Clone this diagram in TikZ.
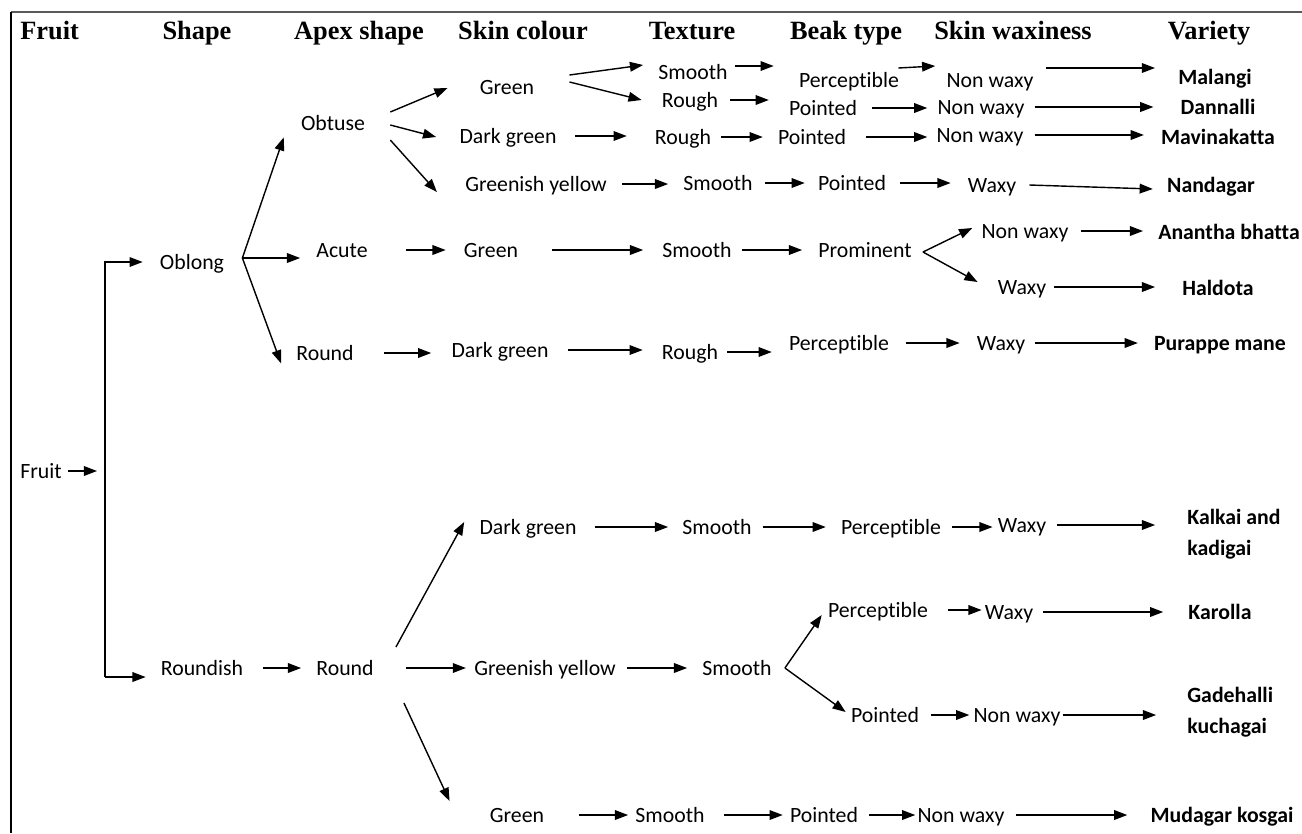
\documentclass[tikz,border=0pt]{standalone}
\usepackage{fontspec}
\setmainfont{Carlito}[RawFeature={-liga;-clig;-calt}]
\newfontfamily\headfont{Liberation Serif}
\usepackage{tikz}
\usetikzlibrary{arrows.meta}

\begin{document}
\begin{tikzpicture}[x=0.02cm,y=-0.02cm,
  lbl/.style={inner sep=0pt, text height=8pt, text depth=0pt, font=\fontsize{12.4}{15}\selectfont},
  var/.style={lbl, font=\fontsize{12.4}{15}\selectfont\bfseries},
  vartwo/.style={inner sep=0pt, anchor=west, align=left, font=\fontsize{12.4}{17.5}\selectfont\bfseries},
  head/.style={inner sep=0pt, text height=10pt, text depth=0pt, font=\headfont\fontsize{15}{18}\selectfont\bfseries},
  arr/.style={-{Triangle[length=7.5pt,width=5.5pt]}, line width=0.8pt},
  hop/.style 2 args={arr, shorten <=#1*0.567pt, shorten >=#2*0.567pt}]

\useasboundingbox (0,0) rectangle (1302,833);

%% frame
\draw[gray!70!black, line width=1pt] (11,12) -- (1302,12);
\draw[black, line width=0.6pt] (11,12) -- (11,833);

%% headers

\node[head, anchor=west] (hfruit) at (20,31) {Fruit};
\node[head] (hshape) at (197,31) {Shape};
\node[head] (hapex) at (359,31) {Apex shape};
\node[head] (hskin) at (523,31) {Skin colour};
\node[head] (htex) at (692,31) {Texture};
\node[head] (hbeak) at (846,31) {Beak type};
\node[head] (hwax) at (1013,31) {Skin waxiness};
\node[head] (hvar) at (1209,31) {Variety};

%% nodes

\node[lbl, anchor=west] (fruit) at (20,471) {Fruit};
\node[lbl] (oblong) at (192,262) {Oblong};
\node[lbl] (roundish) at (202,668) {Roundish};

\node[lbl] (obtuse) at (333,123) {Obtuse};
\node[lbl] (acute) at (342,250) {Acute};
\node[lbl] (rounda) at (325,353) {Round};
\node[lbl] (roundb) at (345,668) {Round};

\node[lbl] (green1) at (507,87) {Green};
\node[lbl] (dgreen1) at (508,136) {Dark green};
\node[lbl] (gyellow1) at (536,184) {Greenish yellow};
\node[lbl] (green2) at (491,250) {Green};
\node[lbl] (dgreen2) at (500,350) {Dark green};
\node[lbl] (dgreen3) at (528,527) {Dark green};
\node[lbl] (gyellow2) at (545,668) {Greenish yellow};
\node[lbl] (green3) at (517,815) {Green};

\node[lbl] (smooth1) at (693,72) {Smooth};
\node[lbl] (rough1) at (690,100) {Rough};
\node[lbl] (rough2) at (683,137) {Rough};
\node[lbl] (smooth2) at (718,183) {Smooth};
\node[lbl] (smooth3) at (697,250) {Smooth};
\node[lbl] (rough3) at (690,352) {Rough};
\node[lbl] (smooth4) at (717,527) {Smooth};
\node[lbl] (smooth5) at (737,668) {Smooth};
\node[lbl] (smooth6) at (670,815) {Smooth};

\node[lbl] (perc1) at (849,80) {Perceptible};
\node[lbl] (point1) at (823,108) {Pointed};
\node[lbl] (point2) at (812,137) {Pointed};
\node[lbl] (point3) at (852,183) {Pointed};
\node[lbl] (prom) at (865,250) {Prominent};
\node[lbl] (perc2) at (839,343) {Perceptible};
\node[lbl] (perc3) at (891,527) {Perceptible};
\node[lbl] (perc4) at (878,610) {Perceptible};
\node[lbl] (point4) at (885,715) {Pointed};
\node[lbl] (point5) at (824,815) {Pointed};

\node[lbl] (nw1) at (990,80) {Non waxy};
\node[lbl] (nw2) at (981,107) {Non waxy};
\node[lbl] (nw3) at (980,135) {Non waxy};
\node[lbl] (wx1) at (992,185) {Waxy};
\node[lbl] (nw4) at (1025,231) {Non waxy};
\node[lbl] (wx2) at (1022,287) {Waxy};
\node[lbl] (wx3) at (1001,343) {Waxy};
\node[lbl] (wx4) at (1022,525) {Waxy};
\node[lbl] (wx5) at (1009,612) {Waxy};
\node[lbl] (nw5) at (1017,715) {Non waxy};
\node[lbl] (nw6) at (961,815) {Non waxy};

\node[var] (malangi) at (1215,77) {Malangi};
\node[var] (dannalli) at (1218,107) {Dannalli};
\node[var] (mavina) at (1218,137) {Mavinakatta};
\node[var] (nandagar) at (1211,185) {Nandagar};
\node[var] (anantha) at (1229,232) {Anantha bhatta};
\node[var] (haldota) at (1218,288) {Haldota};
\node[var] (purappe) at (1220,343) {Purappe mane};
\node[vartwo] (kalkai) at (1187,534) {Kalkai and\\kadigai};
\node[var] (karolla) at (1220,612) {Karolla};
\node[vartwo] (gadehalli) at (1187,712) {Gadehalli\\kuchagai};
\node[var] (mudagar) at (1222,815) {Mudagar kosgai};

%% split points
\coordinate (splitbot) at (105,677);
\coordinate (ofan) at ([shift={(18,-4)}]oblong.east);
\coordinate (pfan) at ([shift={(11,2)}]prom.east);
\coordinate (sfan) at ([shift={(13,0)}]smooth5.east);

%% fruit and shape
\draw[hop={6}{8}] (fruit.east) -- (fruit.east -| splitbot);
\draw[hop={0}{17}] (splitbot) |- (oblong.west);
\draw[hop={0}{15}] (splitbot) -- (splitbot -| roundish.west);

%% oblong
\draw[arr] (ofan) -- ([shift={(-17,7)}]obtuse.south west);
\draw[hop={0}{16}] (ofan) -- (ofan -| acute.west);
\draw[arr] (ofan) -- ([shift={(-15,3)}]rounda.south west);

%% obtuse
\draw[arr] ([shift={(25,-11)}]obtuse.east) -- ([shift={(-32,1)}]green1.west);
\draw[arr] ([shift={(25,2)}]obtuse.east) -- ([shift={(-23,1)}]dgreen1.west);
\draw[arr] ([shift={(25,17)}]obtuse.east) -- ([shift={(-28,8)}]gyellow1.west);

\draw[arr] ([shift={(35,-12)}]green1.east) -- ([shift={(-15,-7)}]smooth1.west);
\draw[arr] ([shift={(35,-5)}]green1.east) -- ([shift={(-20,0)}]rough1.west);
\draw[arr] ([shift={(7,-6)}]smooth1.east) -- ([shift={(-25,-14)}]perc1.west);
\draw[arr] ([shift={(-1,-12)}]perc1.east) -- ([shift={(-11,-14)}]nw1.west);
\draw[arr] ([shift={(12,-12)}]nw1.east) -- ([shift={(-23,-9)}]malangi.west);

\draw[hop={12}{20}] (rough1.east) -- (rough1.east -| point1.west);
\draw[hop={15}{10}] (point1.east) -- (point1.east -| nw2.west);
\draw[hop={10}{27}] (nw2.east) -- (nw2.east -| dannalli.west);

\draw[hop={18}{28}] (dgreen1.east) -- (dgreen1.east -| rough2.west);
\draw[hop={10}{15}] (rough2.east) -- (rough2.east -| point2.west);
\draw[hop={20}{9}] (point2.east) -- (point2.east -| nw3.west);
\draw[hop={11}{17}] (nw3.east) -- (nw3.east -| mavina.west);

\draw[hop={15}{15}] (gyellow1.east) -- (gyellow1.east -| smooth2.west);
\draw[hop={12}{13}] (smooth2.east) -- (smooth2.east -| point3.west);
\draw[hop={14}{17}] (point3.east) -- (point3.east -| wx1.west);
\draw[arr] ([shift={(13,0)}]wx1.east) -- ([shift={(-14,4)}]nandagar.west);

%% acute
\draw[hop={38}{18}] (acute.east) -- (acute.east -| green2.west);
\draw[hop={34}{19}] (green2.east) -- (green2.east -| smooth3.west);
\draw[hop={10}{16}] (smooth3.east) -- (smooth3.east -| prom.west);
\draw[arr] (pfan) -- ([shift={(-9,-3)}]nw4.west);
\draw[arr] (pfan) -- ([shift={(-20,-5)}]wx2.west);
\draw[hop={12}{15}] (nw4.east) -- (nw4.east -| anantha.west);
\draw[hop={8}{27}] (wx2.east) -- (wx2.east -| haldota.west);

%% round
\draw[hop={30}{20}] (rounda.east) -- (rounda.east -| dgreen2.west);
\draw[hop={19}{19}] (dgreen2.east) -- (dgreen2.east -| rough3.west);
\draw[hop={9}{17}] (rough3.east) -- (rough3.east -| perc2.west);
\draw[hop={17}{17}] (perc2.east) -- (perc2.east -| wx3.west);
\draw[hop={10}{16}] (wx3.east) -- (wx3.east -| purappe.west);

%% roundish
\draw[hop={20}{15}] (roundish.east) -- (roundish.east -| roundb.west);
\draw[arr] ([shift={(22,-21)}]roundb.east) -- ([shift={(-15,-5)}]dgreen3.west);
\draw[hop={32}{8}] (roundb.east) -- (roundb.east -| gyellow2.west);
\draw[arr] ([shift={(30,35)}]roundb.east) -- ([shift={(-40,-14)}]green3.west);

\draw[hop={18}{14}] (dgreen3.east) -- (dgreen3.east -| smooth4.west);
\draw[hop={11}{15}] (smooth4.east) -- (smooth4.east -| perc3.west);
\draw[hop={11}{5}] (perc3.east) -- (perc3.east -| wx4.west);
\draw[hop={11}{32}] (wx4.east) -- (wx4.east -| kalkai.west);

\draw[hop={11}{15}] (gyellow2.east) -- (gyellow2.east -| smooth5.west);
\draw[arr] (sfan) -- ([shift={(-6,5)}]perc4.west);
\draw[arr] (sfan) -- ([shift={(-5,-3)}]point4.west);
\draw[hop={20}{3}] (perc4.east) -- (perc4.east -| wx5.west);
\draw[hop={10}{25}] (wx5.east) -- (wx5.east -| karolla.west);
\draw[hop={12}{4}] (point4.east) -- (point4.east -| nw5.west);
\draw[hop={2}{31}] (nw5.east) -- (nw5.east -| gadehalli.west);

\draw[hop={35}{7}] (green3.east) -- (green3.east -| smooth6.west);
\draw[hop={19}{7}] (smooth6.east) -- (smooth6.east -| point5.west);
\draw[hop={11}{2}] (point5.east) -- (point5.east -| nw6.west);
\draw[hop={11}{23}] (nw6.east) -- (nw6.east -| mudagar.west);

\end{tikzpicture}
\end{document}
